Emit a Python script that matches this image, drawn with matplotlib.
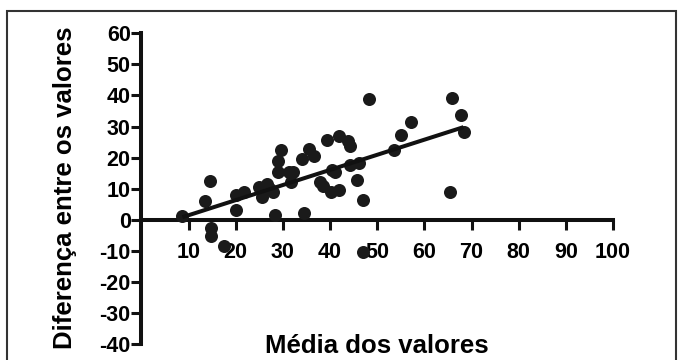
import matplotlib.pyplot as plt
import numpy as np
from matplotlib.patches import Rectangle

# mean of the two values (x) and difference between them (y)
media = [8.7, 13.5, 14.6, 14.8, 14.8, 17.6, 20.1, 20.1, 21.7, 24.9,
         25.6, 26.7, 25.5, 27.3, 27.8, 28.3, 28.9, 29.0, 29.6, 31.3,
         31.7, 32.1, 34.0, 34.5, 35.6, 36.7, 37.9, 38.6, 39.3, 40.2,
         40.5, 41.1, 42.0, 42.0, 43.9, 44.3, 44.3, 46.1, 45.7, 46.9,
         46.9, 48.3, 53.5, 55.1, 57.2, 65.4, 65.9, 67.7, 68.3]
diferenca = [1.3, 6.1, 12.5, -2.7, -5.1, -8.6, 3.2, 8.0, 8.9, 10.5,
             7.2, 11.6, 10.2, 9.9, 8.8, 1.6, 15.5, 18.8, 22.3, 15.5,
             12.0, 15.5, 19.5, 2.1, 22.8, 20.4, 12.0, 10.7, 25.7, 8.8,
             16.1, 15.3, 9.6, 26.8, 25.2, 23.6, 17.7, 18.4, 12.9, 6.4,
             -10.4, 38.8, 22.3, 27.3, 31.3, 8.8, 39.3, 33.8, 28.2]

x_ticks = [10, 20, 30, 40, 50, 60, 70, 80, 90, 100]
y_ticks = [-40, -30, -20, -10, 0, 10, 20, 30, 40, 50, 60]

plt.rcParams['font.family'] = ['Liberation Sans', 'DejaVu Sans']
plt.rcParams['font.weight'] = 'bold'
plt.rcParams['axes.unicode_minus'] = False

fig = plt.figure(figsize=(6.78, 3.6), dpi=100)
ax = fig.add_axes([141.4 / 678, 16 / 360, 471.6 / 678, 310.7 / 360])

x = np.array(media)
y = np.array(diferenca)
ax.scatter(x, y, s=88, color='#1a1a1a', zorder=3, linewidths=0)

# linear regression line over the data range
slope, intercept = np.polyfit(x, y, 1)
xx = np.array([x.min(), x.max()])
ax.plot(xx, slope * xx + intercept, color='#111111', lw=2.9, zorder=4,
        solid_capstyle='butt')

ax.set_xlim(0, 100)
ax.set_ylim(-40, 60)
ax.set_xticks(x_ticks)
ax.set_yticks(y_ticks)
ax.spines['top'].set_visible(False)
ax.spines['right'].set_visible(False)
ax.spines['bottom'].set_position(('data', 0))
for s in ['left', 'bottom']:
    ax.spines[s].set_linewidth(2.9)
    ax.spines[s].set_color('#111111')
ax.tick_params(axis='both', direction='out', length=7.2, width=2.2,
               color='#111111', labelsize=15.5)
ax.tick_params(axis='x', pad=9)
ax.tick_params(axis='y', pad=0.5)
for lbl in ax.get_xticklabels() + ax.get_yticklabels():
    lbl.set_fontweight('bold')

fig.text(377 / 678, 1 - 353 / 360, 'Média dos valores', ha='center',
         va='baseline', fontsize=18.5, fontweight='bold')
fig.text(65 / 678, 1 - 188 / 360, 'Diferença entre os valores', ha='center',
         va='center', rotation=90, fontsize=18.5, fontweight='bold')

fig.patches.append(Rectangle((6.5 / 678, -0.1), (676 - 6.5) / 678, 1.1 - 10.7 / 360,
                             transform=fig.transFigure, fill=False,
                             edgecolor='#333333', lw=1.5))

fig.savefig('out.png', dpi=100)
